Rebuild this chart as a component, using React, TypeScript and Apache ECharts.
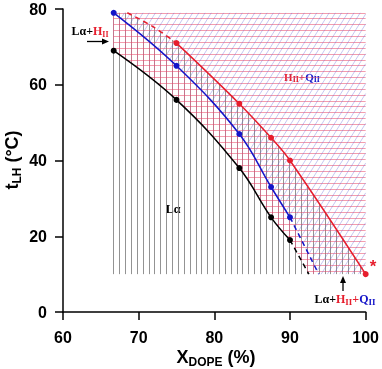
import React, { useEffect, useRef } from 'react';
import * as echarts from 'echarts';

// ---- data ----
const xTicks = [60, 70, 80, 90, 100];
const yTicks = [0, 20, 40, 60, 80];
const xDope = [66.7, 75, 83.3, 87.5, 90];
const tLalpha = [69, 56, 38, 25, 19]; // black boundary
const tQII = [79, 65, 47, 33, 25]; // blue boundary
const xRed = [75, 83.3, 87.5, 90, 100];
const tRed = [71, 55, 46, 40, 10]; // red boundary
const blackDash = [[90, 19], [92.5, 10]];
const blueDash = [[90, 25], [93.8, 10]];
const redDash = [[68.5, 79], [72, 75.2], [75, 71]];
const hatchTop = 79;
const hatchBottom = 10;
const hatchLeft = 66.7;
const hatchRight = 100;

const SMOOTH = 0.4;
const PX_X = 7.575; // approx pixel per x unit, only to mimic the library's smoothing for the hatch clip
const PX_Y = 3.79;

const SANS = '"Liberation Sans", Arial, sans-serif';
const SERIF = '"Liberation Serif", "Times New Roman", serif';
const C_BLACK = '#000000';
const C_BLUE = '#1414c8';
const C_RED = '#e61e2d';

const pairs = (xs: number[], ys: number[]) => xs.map((x, i) => [x, ys[i]]);

// reproduce ECharts' smooth-line bezier so that the hatching follows the drawn curve
function smoothSamples(pts: number[][], s: number): number[][] {
  const P = pts.map(([x, y]) => [x * PX_X, -y * PX_Y]);
  const n = P.length;
  const cpOut: number[][] = [];
  const cpIn: number[][] = [];
  cpOut[0] = P[0].slice();
  cpIn[0] = P[0].slice();
  for (let i = 1; i < n; i++) {
    const [x, y] = P[i];
    const [px, py] = P[i - 1];
    if (i === n - 1) {
      cpIn[i] = [x, y];
      cpOut[i] = [x, y];
      break;
    }
    const [nx, ny] = P[i + 1];
    let vx = nx - px;
    let vy = ny - py;
    const l0 = Math.hypot(x - px, y - py);
    const l1 = Math.hypot(nx - x, ny - y);
    const r = l1 / (l0 + l1);
    let ncx = x + vx * s * r;
    let ncy = y + vy * s * r;
    ncx = Math.max(Math.min(ncx, Math.max(nx, x)), Math.min(nx, x));
    ncy = Math.max(Math.min(ncy, Math.max(ny, y)), Math.min(ny, y));
    vx = ncx - x;
    vy = ncy - y;
    let c1x = x - (vx * l0) / l1;
    let c1y = y - (vy * l0) / l1;
    c1x = Math.max(Math.min(c1x, Math.max(px, x)), Math.min(px, x));
    c1y = Math.max(Math.min(c1y, Math.max(py, y)), Math.min(py, y));
    vx = x - c1x;
    vy = y - c1y;
    cpIn[i] = [c1x, c1y];
    cpOut[i] = [x + (vx * l1) / l0, y + (vy * l1) / l0];
  }
  const out: number[][] = [];
  for (let i = 0; i < n - 1; i++) {
    const a = P[i];
    const b = cpOut[i];
    const c = cpIn[i + 1];
    const d = P[i + 1];
    for (let k = 0; k <= 60; k++) {
      if (i > 0 && k === 0) continue;
      const t = k / 60;
      const u = 1 - t;
      const X = u * u * u * a[0] + 3 * u * u * t * b[0] + 3 * u * t * t * c[0] + t * t * t * d[0];
      const Y = u * u * u * a[1] + 3 * u * u * t * b[1] + 3 * u * t * t * c[1] + t * t * t * d[1];
      out.push([X / PX_X, -Y / PX_Y]);
    }
  }
  return out;
}

const blackPts = smoothSamples(pairs(xDope, tLalpha), SMOOTH).concat([blackDash[1]]);
const bluePts = smoothSamples(pairs(xDope, tQII), SMOOTH).concat([blueDash[1]]);
const redPts = smoothSamples(redDash, SMOOTH)
  .slice(0, -1)
  .concat(smoothSamples(pairs(xRed, tRed), SMOOTH));

function interp(pts: number[][], x: number, below: number, above: number) {
  if (x < pts[0][0]) return below;
  if (x > pts[pts.length - 1][0]) return above;
  for (let i = 0; i < pts.length - 1; i++) {
    const [x1, y1] = pts[i];
    const [x2, y2] = pts[i + 1];
    if (x >= x1 && x <= x2) return x2 === x1 ? y1 : y1 + ((y2 - y1) * (x - x1)) / (x2 - x1);
  }
  return above;
}
const fBlack = (x: number) => interp(blackPts, x, 1e9, -1e9);
const fBlue = (x: number) => interp(bluePts, x, 1e9, -1e9);
const fRed = (x: number) => interp(redPts, x, 1e9, -1e9);

function invBlack(t: number) {
  let lo = hatchLeft;
  let hi = blackDash[1][0];
  for (let k = 0; k < 50; k++) {
    const m = (lo + hi) / 2;
    if (fBlack(m) > t) lo = m;
    else hi = m;
  }
  return (lo + hi) / 2;
}

function buildHatch() {
  const grayV: any[] = [];
  const redV: any[] = [];
  const redH: any[] = [];
  const blueD: any[] = [];
  const vStep = 0.775;
  for (let x = hatchLeft; x < hatchRight - 0.1; x += vStep) {
    const b = fBlack(x);
    const u = fBlue(x);
    const r = fRed(x);
    const push = (arr: any[], lo: number, hi: number) => {
      if (hi > lo + 0.05) arr.push({ coords: [[x, lo], [x, hi]] });
    };
    push(grayV, hatchBottom, Math.min(b, hatchTop));
    push(redV, Math.max(hatchBottom, b), Math.min(u, hatchTop));
    push(grayV, Math.max(hatchBottom, u), Math.min(r, hatchTop));
  }
  const hStep = 1.55;
  for (let t = hatchTop; t >= hatchBottom - 1e-6; t -= hStep) {
    const xl = t >= tLalpha[0] ? hatchLeft : invBlack(t);
    redH.push({ coords: [[xl, t], [hatchRight, t]] });
  }
  const s = 3.2;
  for (let x0 = 40; x0 < hatchRight; x0 += 0.82) {
    let xa = -1;
    let xb = -1;
    for (let x = hatchLeft; x <= hatchRight + 1e-9; x += 0.01) {
      const tl = hatchBottom + s * (x - x0);
      const ok = tl >= hatchBottom && tl <= hatchTop && tl >= fBlue(x);
      if (ok) {
        if (xa < 0) xa = x;
        xb = x;
      }
    }
    if (xa >= 0 && xb > xa) {
      blueD.push({
        coords: [
          [xa, hatchBottom + s * (xa - x0)],
          [xb, hatchBottom + s * (xb - x0)],
        ],
      });
    }
  }
  return { grayV, redV, redH, blueD };
}

function hatchSeries(data: any[], color: string, width: number, opacity: number) {
  return {
    type: 'lines',
    coordinateSystem: 'cartesian2d',
    polyline: false,
    silent: true,
    z: 1,
    lineStyle: { color, width, opacity },
    data,
  };
}

function curve(pts: number[][], color: string, dashed: boolean, symbols: boolean, smooth: number | boolean) {
  return {
    type: 'line',
    data: pts,
    smooth,
    symbol: symbols ? 'circle' : 'none',
    symbolSize: 6,
    silent: true,
    z: 5,
    itemStyle: { color },
    lineStyle: { color, width: 1.5, type: dashed ? [5, 4] : 'solid' },
  };
}

export default function App() {
  const ref = useRef<HTMLDivElement>(null);
  useEffect(() => {
    if (!ref.current) return;
    const chart = echarts.init(ref.current, undefined, { renderer: 'svg' });
    const h = buildHatch();
    const subRich = (color: string, size: number) => ({
      fontFamily: SERIF,
      fontWeight: 'bold',
      fontSize: size,
      fill: color,
    });
    chart.setOption({
      animation: false,
      grid: { left: 63, right: 16, top: 9, bottom: 57 },
      xAxis: {
        type: 'value',
        min: xTicks[0],
        max: xTicks[xTicks.length - 1],
        interval: 10,
        axisLine: { lineStyle: { color: '#000', width: 1.5 } },
        axisTick: { length: 8, lineStyle: { color: '#000', width: 1.5 } },
        axisLabel: {
          margin: 17,
          color: '#000',
          fontFamily: SANS,
          fontWeight: 'bold',
          fontSize: 16,
        },
        splitLine: { show: false },
      },
      yAxis: {
        type: 'value',
        min: yTicks[0],
        max: yTicks[yTicks.length - 1],
        interval: 20,
        axisLine: { show: true, lineStyle: { color: '#000', width: 1.5 } },
        axisTick: { show: true, length: 8, lineStyle: { color: '#000', width: 1.5 } },
        axisLabel: {
          margin: 16,
          color: '#000',
          fontFamily: SANS,
          fontWeight: 'bold',
          fontSize: 16,
        },
        splitLine: { show: false },
      },
      series: [
        hatchSeries(h.grayV, '#808080', 1, 0.85),
        hatchSeries(h.redV, '#b04868', 1, 0.75),
        hatchSeries(h.redH, '#e84868', 0.9, 0.6),
        hatchSeries(h.blueD, '#6060d8', 0.8, 0.45),
        curve(blackDash, C_BLACK, true, false, false),
        curve(blueDash, C_BLUE, true, false, false),
        curve(redDash, C_RED, true, false, SMOOTH),
        curve(pairs(xDope, tLalpha), C_BLACK, false, true, SMOOTH),
        curve(pairs(xDope, tQII), C_BLUE, false, true, SMOOTH),
        curve(pairs(xRed, tRed), C_RED, false, true, SMOOTH),
      ],
      graphic: [
        {
          type: 'text',
          x: 90,
          y: 31,
          style: {
            text: '{a|Lα+}{r|H}{s|II}',
            align: 'center',
            verticalAlign: 'middle',
            rich: {
              a: { ...subRich(C_BLACK, 12), lineHeight: 14 },
              r: { ...subRich(C_RED, 12), lineHeight: 14 },
              s: { ...subRich(C_RED, 8), lineHeight: 11, verticalAlign: 'bottom' },
            },
          },
        },
        {
          type: 'line',
          shape: { x1: 87, y1: 41.5, x2: 104, y2: 41.5 },
          style: { stroke: '#000', lineWidth: 1.3 },
        },
        {
          type: 'polygon',
          shape: { points: [[109, 41.5], [102, 38.5], [102, 44.5]] },
          style: { fill: '#000' },
        },
        {
          type: 'text',
          x: 302,
          y: 77,
          style: {
            text: '{r|H}{rs|II}{r|+}{b|Q}{bs|II}',
            align: 'center',
            verticalAlign: 'middle',
            rich: {
              r: { ...subRich(C_RED, 11), lineHeight: 13 },
              rs: { ...subRich(C_RED, 8), lineHeight: 10, verticalAlign: 'bottom' },
              b: { ...subRich(C_BLUE, 11), lineHeight: 13 },
              bs: { ...subRich(C_BLUE, 8), lineHeight: 10, verticalAlign: 'bottom' },
            },
          },
        },
        {
          type: 'text',
          x: 173,
          y: 209,
          style: {
            text: 'Lα',
            align: 'center',
            verticalAlign: 'middle',
            fontFamily: SERIF,
            fontWeight: 'bold',
            fontSize: 12,
            fill: '#000',
          },
        },
        {
          type: 'text',
          x: 345,
          y: 299,
          style: {
            text: '{a|Lα+}{r|H}{rs|II}{r|+}{b|Q}{bs|II}',
            align: 'center',
            verticalAlign: 'middle',
            rich: {
              a: { ...subRich(C_BLACK, 12), lineHeight: 14 },
              r: { ...subRich(C_RED, 12), lineHeight: 14 },
              rs: { ...subRich(C_RED, 9), lineHeight: 11, verticalAlign: 'bottom' },
              b: { ...subRich(C_BLUE, 12), lineHeight: 14 },
              bs: { ...subRich(C_BLUE, 9), lineHeight: 11, verticalAlign: 'bottom' },
            },
          },
        },
        {
          type: 'line',
          shape: { x1: 343, y1: 291, x2: 343, y2: 281 },
          style: { stroke: '#000', lineWidth: 1.3 },
        },
        {
          type: 'polygon',
          shape: { points: [[343, 276], [340, 283], [346, 283]] },
          style: { fill: '#000' },
        },
        {
          type: 'text',
          x: 373,
          y: 266,
          style: {
            text: '*',
            align: 'center',
            verticalAlign: 'middle',
            fontFamily: SANS,
            fontWeight: 'bold',
            fontSize: 17,
            fill: C_RED,
          },
        },
        {
          type: 'text',
          x: 216,
          y: 357,
          style: {
            text: '{b|X}{s|DOPE}{b| (%)}',
            align: 'center',
            verticalAlign: 'middle',
            rich: {
              b: { fontFamily: SANS, fontWeight: 'bold', fontSize: 18, lineHeight: 22, fill: '#000' },
              s: { fontFamily: SANS, fontWeight: 'bold', fontSize: 12, lineHeight: 12, verticalAlign: 'bottom', fill: '#000' },
            },
          },
        },
        {
          type: 'text',
          x: 12,
          y: 160,
          rotation: Math.PI / 2,
          style: {
            text: '{b|t}{s|LH}{b| (°C)}',
            align: 'center',
            verticalAlign: 'middle',
            rich: {
              b: { fontFamily: SANS, fontWeight: 'bold', fontSize: 18, lineHeight: 22, fill: '#000' },
              s: { fontFamily: SANS, fontWeight: 'bold', fontSize: 12, lineHeight: 12, verticalAlign: 'bottom', fill: '#000' },
            },
          },
        },
      ],
    });
    return () => chart.dispose();
  }, []);
  return (
    <div
      ref={ref}
      style={{ position: 'fixed', left: 0, top: 0, width: 382, height: 369 }}
    />
  );
}
